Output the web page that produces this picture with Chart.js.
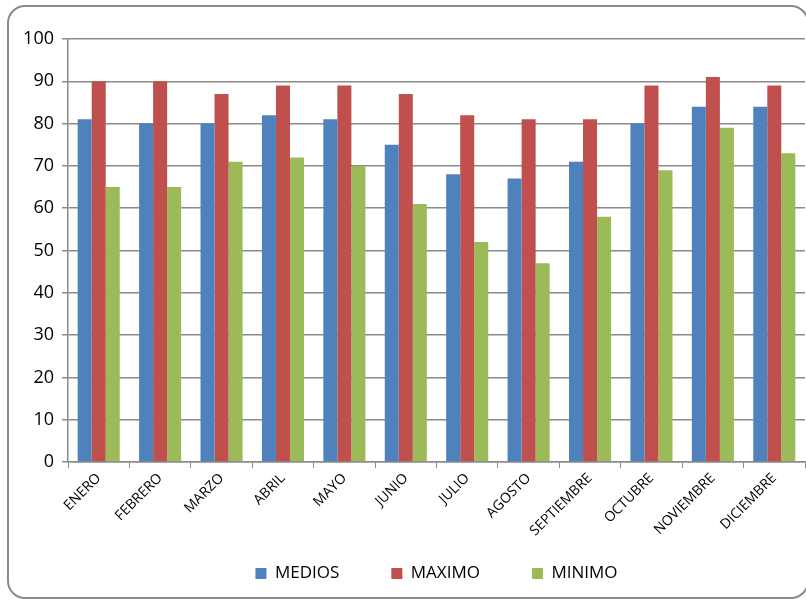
<!DOCTYPE html>
<html>
<head>
<meta charset="utf-8">
<script src="https://cdn.jsdelivr.net/npm/chart.js@4.4.1/dist/chart.umd.min.js"></script>
<style>
  html, body { margin:0; padding:0; background:#fff; overflow:hidden; }
  #wrap { position:relative; width:806px; height:600px; overflow:hidden; }
  #frame { position:absolute; left:7px; top:5px; width:802px; height:594px; box-sizing:border-box;
           border:2px solid #8a8a8a; border-radius:18px; }
  #c { position:absolute; left:0; top:0; }
</style>
</head>
<body>
<div id="wrap">
  <div id="frame"></div>
  <canvas id="c" width="806" height="600"></canvas>
</div>
<script>
const categories = ['ENERO','FEBRERO','MARZO','ABRIL','MAYO','JUNIO','JULIO','AGOSTO','SEPTIEMBRE','OCTUBRE','NOVIEMBRE','DICIEMBRE'];
const medios = [81, 80, 80, 82, 81, 75, 68, 67, 71, 80, 84, 84];
const maximo = [90, 90, 87, 89, 89, 87, 82, 81, 81, 89, 91, 89];
const minimo = [65, 65, 71, 72, 70, 61, 52, 47, 58, 69, 79, 73];
const seriesNames = ['MEDIOS', 'MAXIMO', 'MINIMO'];
const yTicks = [0, 10, 20, 30, 40, 50, 60, 70, 80, 90, 100];

const FONT = '"Open Sans", "Liberation Sans", sans-serif';

const layoutTweak = {
  id: 'layoutTweak',
  afterLayout(chart) {
    const lg = chart.legend;
    if (lg) {
      lg.left = chart.chartArea.left;
      lg.right = chart.chartArea.right;
    }
    // let rotated x labels extend down toward the legend (avoid clipping)
    chart.scales.x.bottom = chart.height - 45;
  }
};

new Chart(document.getElementById('c'), {
  type: 'bar',
  data: {
    labels: categories,
    datasets: [
      { label: seriesNames[0], data: medios, backgroundColor: '#4F81BD' },
      { label: seriesNames[1], data: maximo, backgroundColor: '#C0504D' },
      { label: seriesNames[2], data: minimo, backgroundColor: '#9BBB59' }
    ]
  },
  options: {
    responsive: false,
    animation: false,
    devicePixelRatio: 1,
    layout: { padding: { left: 0, right: 1, top: 39, bottom: 8 } },
    datasets: { bar: { categoryPercentage: 0.685, barPercentage: 1.0 } },
    plugins: {
      tooltip: { enabled: false },
      legend: {
        position: 'bottom',
        labels: {
          color: '#000',
          font: { family: FONT, size: 17 },
          boxWidth: 11, boxHeight: 11,
          padding: 52
        }
      }
    },
    scales: {
      x: {
        grid: { display: true, drawOnChartArea: false, drawTicks: true, tickLength: 6, offset: true, color: '#8a8a8a' },
        border: { display: true, color: '#8a8a8a', width: 1.5 },
        ticks: { color: '#000', font: { family: FONT, size: 14 }, minRotation: 45, maxRotation: 45, autoSkip: false, padding: 2 },
        afterFit(scale) { scale.height = 51; }
      },
      y: {
        min: 0, max: 100,
        afterBuildTicks(scale) { scale.ticks = yTicks.map(v => ({ value: v })); },
        grid: { color: '#8a8a8a', lineWidth: 1.5, tickLength: 6 },
        border: { display: true, color: '#8a8a8a', width: 1.5 },
        ticks: { color: '#000', font: { family: FONT, size: 18 }, padding: 8 },
        afterFit(scale) { scale.width = 68; }
      }
    }
  },
  plugins: [layoutTweak]
});
</script>
</body>
</html>
